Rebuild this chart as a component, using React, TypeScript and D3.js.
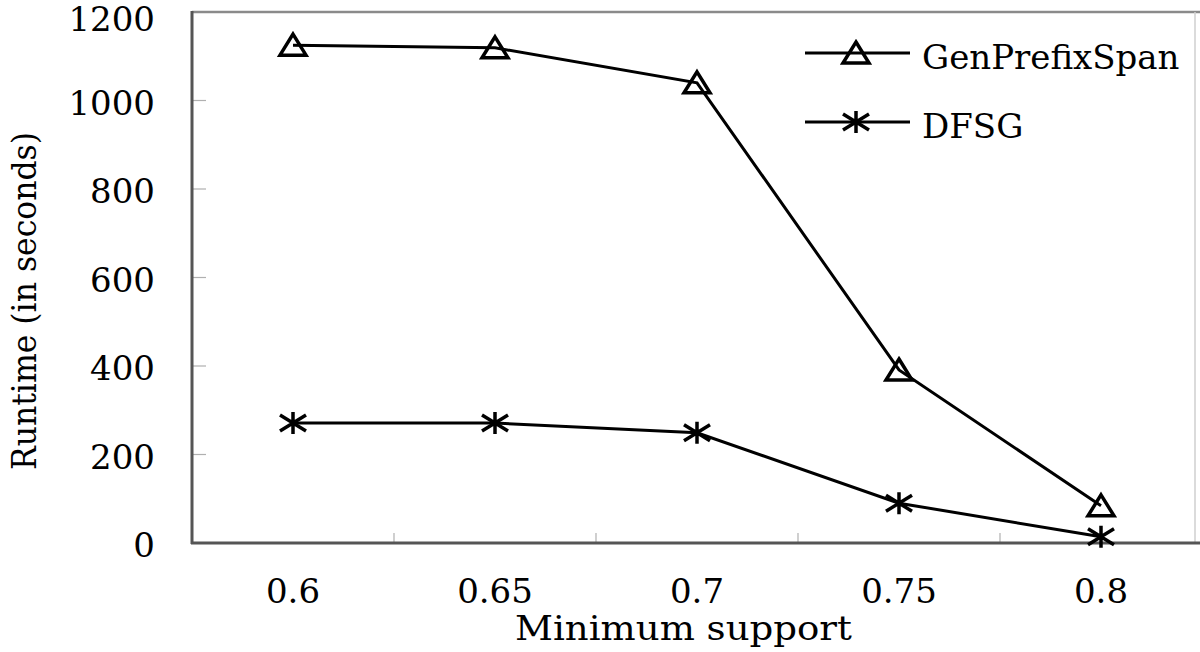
import React from 'react';
import * as d3 from 'd3';

const categories = ['0.6', '0.65', '0.7', '0.75', '0.8'];
const genPrefixSpan = [1125, 1119, 1040, 391, 84];
const dfsg = [271, 271, 249, 90, 14];
const yTicks = [0, 200, 400, 600, 800, 1000, 1200];
const seriesNames = ['GenPrefixSpan', 'DFSG'];

const FONT = "'DejaVu Serif', 'Liberation Serif', serif";

const triPath = 'M0,-11L13,10L-13,10Z';
const starPath = 'M0,-11L0,11M-13,-8L13,8M-13,8L13,-8';

export default function App() {
  const x = d3.scaleBand<string>().domain(categories).range([192, 1202]);
  const y = d3.scaleLinear().domain([0, 1200]).range([543, 12]);
  const cx = (c: string) => (x(c) as number) + x.bandwidth() / 2;
  const line = d3
    .line<number>()
    .x((_d, i) => cx(categories[i]))
    .y((d) => y(d));
  const boundaries = categories.slice(1).map((c) => x(c) as number);
  const txt: React.CSSProperties = { fontFamily: FONT };

  return (
    <div style={{ position: 'fixed', left: 0, top: 0 }}>
      <svg width={1200} height={652} style={{ display: 'block', background: '#fff', fontFamily: FONT }}>
        <rect x={0} y={0} width={1200} height={652} fill="#fff" />
        {/* frame */}
        <line x1={192} x2={1200} y1={12} y2={12} stroke="#8a8a8a" strokeWidth={2.5} />
        <line x1={1195} x2={1195} y1={12} y2={543} stroke="#cfcfcf" strokeWidth={1.5} />
        {/* y ticks */}
        {yTicks.slice(1, -1).map((t) => (
          <line key={t} x1={192} x2={206} y1={y(t)} y2={y(t)} stroke="#b0b0b0" strokeWidth={1.2} />
        ))}
        {/* x ticks */}
        {boundaries.map((b, i) => (
          <line key={i} x1={b} x2={b} y1={543} y2={533} stroke="#b0b0b0" strokeWidth={1.2} />
        ))}
        <line x1={192} x2={192} y1={11} y2={544} stroke="#555" strokeWidth={3} />
        <line x1={191} x2={1200} y1={543} y2={543} stroke="#555" strokeWidth={3} />

        {/* y labels */}
        {yTicks.map((t) => (
          <text
            key={t}
            x={155}
            y={Math.max(y(t) + 14, 31)}
            textAnchor="end"
            fontSize={34}
            fill="#000"
            style={txt}
          >
            {t}
          </text>
        ))}
        {/* x labels */}
        {categories.map((c) => (
          <text key={c} x={cx(c)} y={603} textAnchor="middle" fontSize={34} fill="#000" style={txt}>
            {c}
          </text>
        ))}
        {/* axis titles */}
        <text
          x={515}
          y={640}
          fontSize={34}
          textLength={337}
          lengthAdjust="spacingAndGlyphs"
          fill="#000"
          style={txt}
        >
          Minimum support
        </text>
        <text
          transform="translate(36,470) rotate(-90)"
          fontSize={33}
          textLength={338}
          lengthAdjust="spacingAndGlyphs"
          fill="#000"
          style={txt}
        >
          Runtime (in seconds)
        </text>

        {/* series */}
        <path d={line(genPrefixSpan) as string} fill="none" stroke="#000" strokeWidth={3} />
        <path d={line(dfsg) as string} fill="none" stroke="#000" strokeWidth={3} />
        {genPrefixSpan.map((v, i) => (
          <path
            key={'g' + i}
            d={triPath}
            transform={`translate(${cx(categories[i])},${y(v)})`}
            fill="none"
            stroke="#000"
            strokeWidth={3.5}
          />
        ))}
        {dfsg.map((v, i) => (
          <path
            key={'d' + i}
            d={starPath}
            transform={`translate(${cx(categories[i])},${y(v)})`}
            fill="none"
            stroke="#000"
            strokeWidth={3.5}
          />
        ))}

        {/* legend */}
        {seriesNames.map((n, i) => {
          const ly = 53 + i * 69;
          return (
            <g key={n}>
              <line x1={805} x2={910} y1={ly} y2={ly} stroke="#000" strokeWidth={3} />
              <path
                d={i === 0 ? triPath : starPath}
                transform={`translate(856,${ly})`}
                fill="none"
                stroke="#000"
                strokeWidth={3.5}
              />
              <text x={922} y={ly + 16} fontSize={34} fill="#000" style={txt}>
                {n}
              </text>
            </g>
          );
        })}
      </svg>
    </div>
  );
}
